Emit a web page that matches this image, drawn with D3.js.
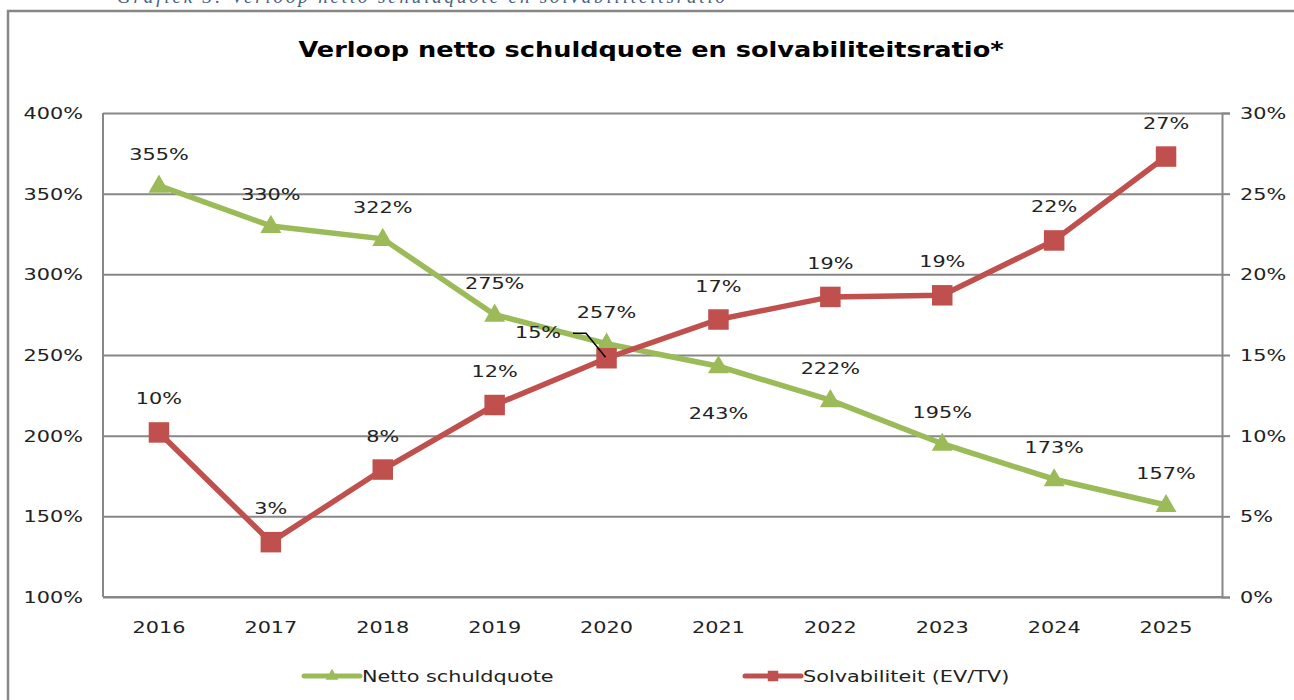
<!DOCTYPE html>
<html>
<head>
<meta charset="utf-8">
<script src="https://cdn.jsdelivr.net/npm/d3@7"></script>
<style>
  body { margin: 0; background: #fff; }
  text { font-family: "DejaVu Sans", Verdana, sans-serif; fill: #222; }
</style>
</head>
<body>
<script>
// data
var years = ["2016", "2017", "2018", "2019", "2020", "2021", "2022", "2023", "2024", "2025"];
var schuldquote = [355, 330, 322, 275, 257, 243, 222, 195, 173, 157];
var solvabiliteit = [10.2, 3.4, 7.9, 11.9, 14.8, 17.2, 18.6, 18.7, 22.1, 27.3];
var leftTicks = [100, 150, 200, 250, 300, 350, 400];
var rightTicks = [0, 5, 10, 15, 20, 25, 30];
var seriesNames = ["Netto schuldquote", "Solvabiliteit (EV/TV)"];

var w = 1294, h = 700;
var SX = 1.3; // the source image is stretched sideways
var green = "#9bbb59", red = "#c0504d", grid = "#878787";

var svg = d3.select("body").append("svg").attr("width", w).attr("height", h);

// stretched text helper
function txt(g, x, y, s, size, anchor) {
  return g.append("text")
    .attr("transform", `translate(${x},${y}) scale(${SX},1)`)
    .attr("text-anchor", anchor || "middle")
    .style("font-size", size + "px")
    .text(s);
}

// caption cut off by the top of the page
svg.append("text").attr("x", 117).attr("y", 3)
  .style("font-family", "'Liberation Serif', serif").style("font-style", "italic")
  .style("font-size", "19px").style("fill", "#4a6087")
  .attr("textLength", 608)
  .text("Grafiek 3: Verloop netto schuldquote en solvabiliteitsratio");

// outer frame
svg.append("rect").attr("x", 8).attr("y", 11).attr("width", 1300).attr("height", 700)
  .attr("fill", "none").attr("stroke", grid).attr("stroke-width", 2.5);

svg.append("text")
  .attr("transform", `translate(651,57) scale(1.22,1)`)
  .attr("text-anchor", "middle").style("font-size", "21px").style("font-weight", "bold")
  .style("fill", "#000")
  .text("Verloop netto schuldquote en solvabiliteitsratio*");

var pL = 103, pR = 1222, pT = 113, pB = 597;

var x = d3.scaleBand().domain(years).range([pL, pR]);
var yL = d3.scaleLinear().domain([100, 400]).range([pB, pT]);
var yR = d3.scaleLinear().domain([0, 30]).range([pB, pT]);
var cx = function(i) { return x(years[i]) + x.bandwidth() / 2; };

// gridlines + left labels
var gl = svg.append("g").attr("transform", `translate(${pL},0)`)
  .call(d3.axisLeft(yL).tickValues(leftTicks).tickSize(-(pR - pL)).tickFormat(""));
gl.select(".domain").remove();
gl.selectAll("line").attr("stroke", grid).attr("stroke-width", 2);
leftTicks.forEach(function(t) { txt(svg, 83, yL(t) + 6, t + "%", 16, "end"); });

// right axis with outward ticks
var gr = svg.append("g").attr("transform", `translate(${pR},0)`)
  .call(d3.axisRight(yR).tickValues(rightTicks).tickSize(8).tickSizeOuter(8).tickFormat(""));
gr.selectAll("line, path").attr("stroke", grid).attr("stroke-width", 2);
rightTicks.forEach(function(t) { txt(svg, 1240, yR(t) + 6, t + "%", 16, "start"); });

// left + bottom frame of the plot
svg.append("line").attr("x1", pL).attr("x2", pL).attr("y1", pT).attr("y2", pB)
  .attr("stroke", grid).attr("stroke-width", 2);
svg.append("line").attr("x1", pL).attr("x2", pR).attr("y1", pB).attr("y2", pB)
  .attr("stroke", grid).attr("stroke-width", 2);

years.forEach(function(yr, i) { txt(svg, cx(i), 633, yr, 16); });

// series
var lineG = d3.line().x(function(d, i) { return cx(i); }).y(function(d) { return yL(d); });
var lineR = d3.line().x(function(d, i) { return cx(i); }).y(function(d) { return yR(d); });

svg.append("path").datum(schuldquote).attr("d", lineG)
  .attr("fill", "none").attr("stroke", green).attr("stroke-width", 5.5);
svg.append("path").datum(solvabiliteit).attr("d", lineR)
  .attr("fill", "none").attr("stroke", red).attr("stroke-width", 5.5);

var tri = d3.symbol().type(d3.symbolTriangle).size(190);
var sq = d3.symbol().type(d3.symbolSquare).size(420);

svg.selectAll(".tri").data(schuldquote).enter().append("path")
  .attr("d", tri).attr("fill", green)
  .attr("transform", function(d, i) { return `translate(${cx(i)},${yL(d) + 1})`; });
svg.selectAll(".sq").data(solvabiliteit).enter().append("path")
  .attr("d", sq).attr("fill", red)
  .attr("transform", function(d, i) { return `translate(${cx(i)},${yR(d)})`; });

// data labels
schuldquote.forEach(function(d, i) {
  var below = years[i] === "2021";
  txt(svg, cx(i), below ? yL(d) + 53 : yL(d) - 26, d + "%", 16);
});
solvabiliteit.forEach(function(d, i) {
  var s = Math.round(d) + "%";
  if (years[i] === "2020") {
    txt(svg, 538, yR(d) - 20, s, 16);
    svg.append("polyline")
      .attr("points", [[573, yR(d) - 25], [586, yR(d) - 25], [cx(i) - 1, yR(d) - 1]].join(" "))
      .attr("fill", "none").attr("stroke", "#000").attr("stroke-width", 1.5);
  } else {
    txt(svg, cx(i), yR(d) - 28, s, 16);
  }
});

// legend
var leg = [{name: seriesNames[0], c: green, s: d3.symbol().type(d3.symbolTriangle).size(70), x0: 304},
           {name: seriesNames[1], c: red, s: d3.symbol().type(d3.symbolSquare).size(110), x0: 745}];
leg.forEach(function(l) {
  svg.append("line").attr("x1", l.x0).attr("x2", l.x0 + 56).attr("y1", 676).attr("y2", 676)
    .attr("stroke", l.c).attr("stroke-width", 5).attr("stroke-linecap", "round");
  svg.append("path").attr("d", l.s).attr("fill", l.c)
    .attr("transform", `translate(${l.x0 + 28},676)`);
  txt(svg, l.x0 + 58, 682, l.name, 16, "start");
});
</script>
</body>
</html>
